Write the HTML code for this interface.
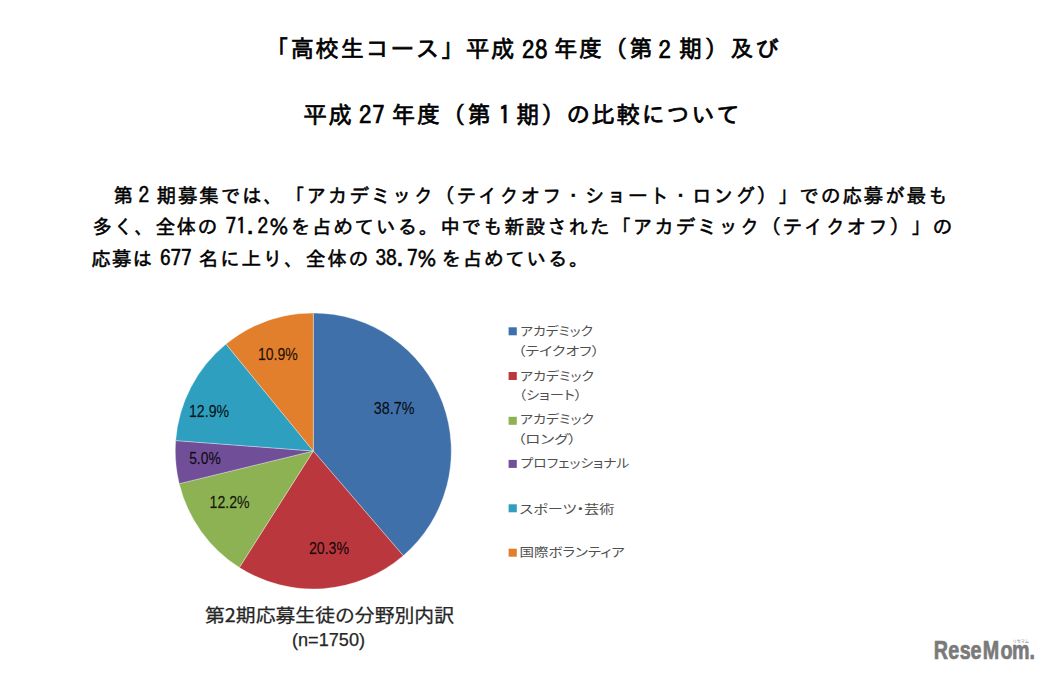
<!DOCTYPE html>
<html lang="ja">
<head>
<meta charset="utf-8">
<style>
html,body{margin:0;padding:0;background:#fff;}
body{width:1045px;height:673px;position:relative;overflow:hidden;}
svg{position:absolute;left:0;top:0;}
.ti{font-family:"IPAGothic","Noto Sans CJK JP",sans-serif;font-size:24.3px;fill:#000;stroke:#000;stroke-width:0.7px;}
.bd{font-family:"IPAGothic","Noto Sans CJK JP",sans-serif;font-size:21.4px;fill:#000;stroke:#000;stroke-width:0.5px;}
.lbl{font-family:"Liberation Sans",sans-serif;font-size:15.6px;fill:#000;fill-opacity:0.85;stroke:#000;stroke-opacity:0.6;stroke-width:0.3px;}
.lg{font-family:"Noto Sans CJK JP",sans-serif;font-size:12.5px;font-weight:400;fill:#505050;font-feature-settings:"palt";}
</style>
</head>
<body>
<svg width="1045" height="673" viewBox="0 0 1045 673">
<text class="ti" y="57.1"><tspan x="265.4 290.5 315.5 340.6 365.6 390.7 415.8 440.8 465.9 490.9" font-size="23.4" y="57.1">「高校生コース」平成</tspan><tspan x="522.0 534.9" font-size="24.8" y="58.6">28</tspan><tspan x="553.9 579.0 604.0 629.1" font-size="23.4" y="57.1">年度（第</tspan><tspan x="658.6" font-size="24.8" y="58.6">2</tspan><tspan x="678.9 704.4 729.9 755.4" font-size="23.4" y="57.1">期）及び</tspan></text>
<text class="ti" y="122.6"><tspan x="303.6 328.4" font-size="23.4" y="122.6">平成</tspan><tspan x="359.0 372.2" font-size="24.8" y="124.1">27</tspan><tspan x="391.7 416.9 442.1 467.3" font-size="23.4" y="122.6">年度（第</tspan><tspan x="498.5" font-size="24.8" y="124.1">1</tspan><tspan x="516.3 541.3 566.4 591.4 616.5 641.5 666.5 691.6 716.6" font-size="23.4" y="122.6">期）の比較について</tspan></text>
<text class="bd" y="202.5"><tspan x="112.9" font-size="19.8" y="202.5">第</tspan><tspan x="138.5" font-size="21.4" y="202.5">2</tspan><tspan x="156.4 177.8 199.3 220.7 242.1 263.6 285.0 306.4 327.8 349.3 370.7 392.1 413.6 435.0 456.4 477.9 499.3 520.7 542.1 563.6 585.0 606.4 627.9 649.3 670.7 692.1 713.6 735.0 756.4 777.9 799.3 820.7 842.2 863.6 885.0 906.4 927.9" font-size="19.8" y="202.5">期募集では、「アカデミック（テイクオフ・ショート・ロング）」での応募が最も</tspan></text>
<text class="bd" y="234"><tspan x="92.4 113.4 134.4 155.4 176.4 197.4" font-size="19.8" y="234">多く、全体の</tspan><tspan x="225.4 236.1 246.7 257.4" font-size="21.4" y="234">71.2</tspan><tspan x="269.0 290.4 311.8 333.2 354.6 376.0 397.4 418.8 440.2 461.6 483.0 504.4 525.8 547.2 568.6 590.0 611.4 632.8 654.2 675.6 697.0 718.4 739.8 761.2 782.6 804.0 825.4 846.8 868.2 889.6 911.0 932.4" font-size="19.8" y="234">％を占めている。中でも新設された「アカデミック（テイクオフ）」の</tspan></text>
<text class="bd" y="265.5"><tspan x="91.0 111.8 132.5" font-size="19.8" y="265.5">応募は</tspan><tspan x="159.9 170.5 181.1" font-size="21.4" y="265.5">677</tspan><tspan x="198.5 219.9 241.4 262.8 284.3 305.7 327.2 348.6" font-size="19.8" y="265.5">名に上り、全体の</tspan><tspan x="375.4 385.9 396.4 406.9" font-size="21.4" y="265.5">38.7</tspan><tspan x="417.0" font-size="19.8" y="265.5">％</tspan><tspan x="441.3 462.6 483.9 505.2 526.5 547.8 569.1" font-size="19.8" y="265.5">を占めている。</tspan></text>
<g stroke="#ffffff" stroke-opacity="0.55" stroke-width="0.6">
<path d="M313.3,451 L313.30,313.00 A138,138 0 0 1 403.25,555.65 Z" fill="#4070aa"/>
<path d="M313.3,451 L403.25,555.65 A138,138 0 0 1 239.36,567.52 Z" fill="#ba383d"/>
<path d="M313.3,451 L239.36,567.52 A138,138 0 0 1 179.21,483.64 Z" fill="#8db253"/>
<path d="M313.3,451 L179.21,483.64 A138,138 0 0 1 175.69,440.60 Z" fill="#714f98"/>
<path d="M313.3,451 L175.69,440.60 A138,138 0 0 1 226.01,344.12 Z" fill="#2f9fbf"/>
<path d="M313.3,451 L226.01,344.12 A138,138 0 0 1 313.30,313.00 Z" fill="#e27f2c"/>
</g>
<g class="lbl">
<text x="373.8" y="413.6" textLength="40.6" lengthAdjust="spacingAndGlyphs">38.7%</text>
<text x="308.9" y="553.8" textLength="40.2" lengthAdjust="spacingAndGlyphs">20.3%</text>
<text x="209.6" y="507.6" textLength="40.0" lengthAdjust="spacingAndGlyphs">12.2%</text>
<text x="189.2" y="463.9" textLength="31.5" lengthAdjust="spacingAndGlyphs">5.0%</text>
<text x="189.0" y="417.1" textLength="40.1" lengthAdjust="spacingAndGlyphs">12.9%</text>
<text x="257.9" y="359.5" textLength="39.8" lengthAdjust="spacingAndGlyphs">10.9%</text>
</g>
<g>
<rect x="508.6" y="327.3" width="8.2" height="8" fill="#4070aa"/>
<rect x="508.6" y="372.0" width="8.2" height="8" fill="#ba383d"/>
<rect x="508.6" y="416.8" width="8.2" height="8" fill="#8db253"/>
<rect x="508.6" y="459.9" width="8.2" height="8" fill="#714f98"/>
<rect x="508.6" y="504.3" width="8.2" height="8" fill="#2f9fbf"/>
<rect x="508.6" y="548.7" width="8.2" height="8" fill="#e27f2c"/>
</g>
<g class="lg">
<text x="520.2" y="335.9" textLength="72.8" lengthAdjust="spacingAndGlyphs">アカデミック</text>
<text x="517.9" y="356.0" textLength="81.3" lengthAdjust="spacingAndGlyphs">（テイクオフ）</text>
<text x="520.1" y="380.9" textLength="73.8" lengthAdjust="spacingAndGlyphs">アカデミック</text>
<text x="518.8" y="399.6" textLength="63.2" lengthAdjust="spacingAndGlyphs">（ショート）</text>
<text x="520.1" y="423.7" textLength="73.8" lengthAdjust="spacingAndGlyphs">アカデミック</text>
<text x="517.6" y="443.7" textLength="58.5" lengthAdjust="spacingAndGlyphs">（ロング）</text>
<text x="520.6" y="468.3" textLength="108.8" lengthAdjust="spacingAndGlyphs">プロフェッショナル</text>
<text x="519.6" y="513.5" textLength="94.9" lengthAdjust="spacingAndGlyphs">スポーツ・芸術</text>
<text x="519.6" y="557.1" textLength="105.2" lengthAdjust="spacingAndGlyphs">国際ボランティア</text>
</g>
<g font-family="Noto Sans CJK JP, sans-serif" fill="#262626" stroke="#262626" stroke-width="0.25">
<text x="205" y="621.5" font-size="18.5" textLength="249" lengthAdjust="spacingAndGlyphs">第2期応募生徒の分野別内訳</text>
<text x="292" y="645.5" font-size="17.5" font-family="Liberation Sans, sans-serif" textLength="73" lengthAdjust="spacingAndGlyphs">(n=1750)</text>
</g>
<g fill="#7a7a7a">
<text transform="scale(0.78,1)" x="1197.13 1215.83 1230.52 1244.37 1260.03 1282.58 1297.58 1319.77" y="658.6" font-family="Liberation Sans, sans-serif" font-weight="bold" font-size="25.3" stroke="#7a7a7a" stroke-width="0.7">ReseMom.</text>
<text x="1012.8" y="642.8" font-family="Noto Sans CJK JP, sans-serif" font-size="4" textLength="16" lengthAdjust="spacingAndGlyphs">リセマム</text>
</g>
</svg>
</body>
</html>
